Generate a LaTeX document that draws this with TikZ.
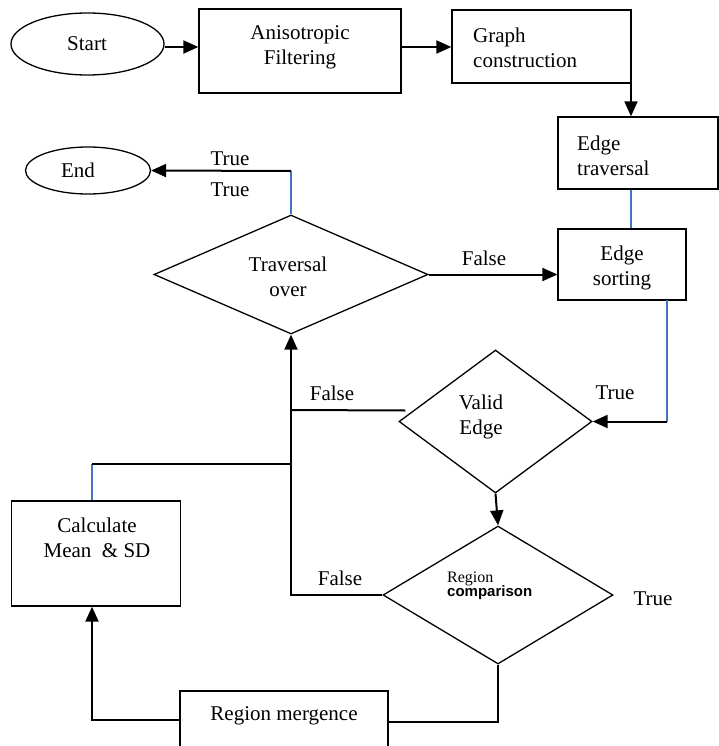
\documentclass[tikz,border=0pt]{standalone}
\usepackage{fontspec}
\setmainfont{Liberation Serif}
\newfontfamily\arialfont{Liberation Sans}
\usetikzlibrary{shapes.geometric,arrows.meta}
\definecolor{linkblue}{RGB}{68,114,196}
\begin{document}
\begin{tikzpicture}[x=1pt,y=-1pt,
 box/.style={draw,line width=1.3pt,inner sep=0pt},
 oval/.style={draw,ellipse,line width=1.3pt,inner sep=0pt},
 dia/.style={draw,diamond,line width=1.3pt,inner sep=0pt},
 txt/.style={inner sep=0pt,font=\fontsize{21}{25}\selectfont,align=center},
 conn/.style={line width=2pt},
 arr/.style={conn,-{Triangle[length=15pt,width=13pt]}},
 bluel/.style={line width=1.2pt,linkblue}]
\useasboundingbox (0,0) rectangle (719,746);
\clip (0,0) rectangle (719,746);
% nodes
\node[oval,minimum width=153pt,minimum height=62pt] (start) at (87.5,44) {};
\node[txt] (startt) at (87,44) {Start};
\node[box,minimum width=202pt,minimum height=84pt] (aniso) at (300,51) {};
\node[txt] (anisot) at (300,47.5) {Anisotropic\\Filtering};
\node[box,minimum width=179pt,minimum height=73pt] (graph) at (541.5,46.5) {};
\node[txt,align=left,anchor=west] (grapht) at (473,47.5) {Graph\\construction};
\node[box,minimum width=160pt,minimum height=72pt] (etrav) at (638,153) {};
\node[txt,align=left,anchor=west] (etravt) at (577,155.5) {Edge\\traversal};
\node[box,minimum width=128pt,minimum height=71pt] (esort) at (622,264.5) {};
\node[txt] (esortt) at (622,267.5) {Edge\\sorting};
\node[oval,minimum width=125pt,minimum height=47pt] (end) at (88,170.5) {};
\node[txt] (endt) at (78,170.5) {End};
\node[dia,minimum width=274pt,minimum height=119pt] (trav) at (291,274.5) {};
\node[txt] (travt) at (288,277) {Traversal\\over};
\node[dia,minimum width=193pt,minimum height=143pt] (valid) at (495.5,421.5) {};
\node[txt] (validt) at (481,416.5) {Valid\\Edge};
\node[dia,minimum width=230pt,minimum height=138pt] (regc) at (498,595) {};
\node[inner sep=0pt,align=left,anchor=west] (regct) at (447,585.5) {\fontsize{16}{19}\selectfont Region\\[-1pt]\arialfont\bfseries\fontsize{15}{19}\selectfont comparison};
\node[box,minimum width=169pt,minimum height=105pt] (calc) at (96,553.5) {};
\node[txt] (calct) at (97,537.5) {Calculate\\Mean\ \ \& SD};
\node[box,minimum width=208pt,minimum height=69pt] (merge) at (284,725.5) {};
\node[txt] (merget) at (284,716) {Region mergence};
% labels
\node[txt] (lt1) at (230,159) {True};
\node[txt] (lt2) at (230,190) {True};
\node[txt] (lf1) at (484,258) {False};
\node[txt] (lt3) at (615,393) {True};
\node[txt] (lf2) at (332,393) {False};
\node[txt] (lf3) at (340,578) {False};
\node[txt] (lt4) at (653,599) {True};
% coordinates
\coordinate (spineT) at (trav.south);
\coordinate (endc) at (291,171);
\coordinate (gdown) at (631,63);
\coordinate (sortout) at (667,300);
\coordinate (calcup) at (92,464);
\coordinate (mergel) at (92,720);
% connectors
\draw[arr] (start.east |- 0,47) -- (aniso.west |- 0,47);
\draw[arr] (aniso.east |- 0,47) -- (graph.west |- 0,47);
\draw[arr] (gdown) -- (gdown |- etrav.north);
\draw[bluel] (gdown |- etrav.south) -- (gdown |- esort.north);
\draw[bluel] (trav.north) -- (endc);
\draw[arr] (endc) -- (end.east);
\draw[arr] (trav.east) -- (esort.west |- trav.east);
\draw[bluel] (sortout) -- (sortout |- valid.east);
\draw[arr] (sortout |- valid.east) -- (valid.east);
\draw[conn] ([xshift=7pt,yshift=11pt]valid.west) -- (spineT |- 0,410);
\draw[arr] (valid.south) -- (regc.north);
\draw[arr] (regc.west) -- (spineT |- regc.west) -- (spineT);
\draw[conn] (regc.south) -- (regc.south |- 0,722) -- (merge.east |- 0,722);
\draw[arr] (merge.west |- mergel) -- (mergel) -- (mergel |- calc.south);
\draw[bluel] (calcup |- calc.north) -- (calcup);
\draw[conn] (calcup) -- (spineT |- calcup);
\end{tikzpicture}
\end{document}
